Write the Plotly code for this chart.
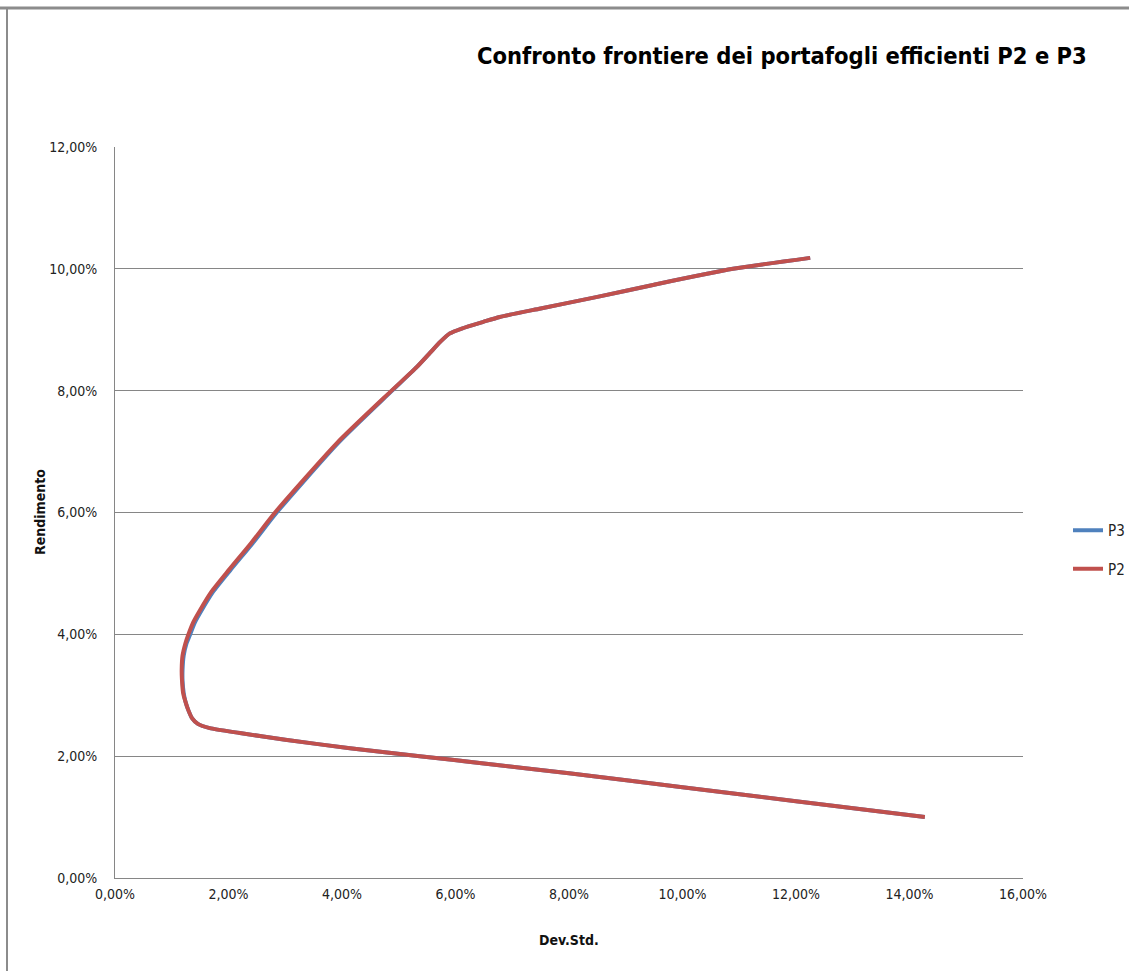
import plotly.graph_objects as go

# Efficient frontier of portfolio P2 (std dev %, return %)
p2_dev = [14.27, 12.00, 10.00, 8.00, 6.50, 5.37, 4.14, 3.00, 2.20, 1.67, 1.46, 1.36,
          1.29, 1.24, 1.20, 1.18, 1.175, 1.19, 1.24, 1.29, 1.38, 1.50, 1.70, 2.00,
          2.40, 2.82, 3.91, 4.85, 5.32, 5.55, 5.73, 5.90, 6.11, 6.49, 6.78, 7.50,
          8.50, 9.50, 10.89, 12.25]
p2_ret = [1.00, 1.26, 1.49, 1.72, 1.88, 2.00, 2.13, 2.27, 2.38, 2.46, 2.53, 2.62,
          2.76, 2.90, 3.04, 3.25, 3.41, 3.65, 3.85, 3.99, 4.20, 4.40, 4.70, 5.05,
          5.50, 6.00, 7.14, 7.98, 8.39, 8.62, 8.80, 8.94, 9.02, 9.13, 9.21, 9.35,
          9.54, 9.74, 10.00, 10.18]

# Efficient frontier of portfolio P3 (std dev %, return %)
p3_dev = [14.27, 12.00, 10.00, 8.00, 6.50, 5.37, 4.14, 3.00, 2.20, 1.67, 1.46, 1.36,
          1.29, 1.24, 1.21, 1.19, 1.19, 1.21, 1.26, 1.32, 1.41, 1.53, 1.73, 2.03,
          2.43, 2.85, 3.93, 4.86, 5.32, 5.55, 5.73, 5.90, 6.11, 6.49, 6.78, 7.50,
          8.50, 9.50, 10.89, 12.25]
p3_ret = p2_ret[:]

x_ticks = [0, 2, 4, 6, 8, 10, 12, 14, 16]
y_ticks = [0, 2, 4, 6, 8, 10, 12]


def pct_label(v):
    return f"{v:.2f}".replace(".", ",") + "%"


BLUE = "#4F81BD"
RED = "#C0504D"
GRID = "#868686"
FONT = "DejaVu Sans Condensed, Liberation Sans, sans-serif"

fig = go.Figure()
fig.add_trace(go.Scatter(x=p3_dev, y=p3_ret, mode="lines", name="P3",
                         legendgroup="P3",
                         line=dict(color=BLUE, width=4, shape="spline", smoothing=0.6)))
fig.add_trace(go.Scatter(x=p2_dev, y=p2_ret, mode="lines", name="P2",
                         legendgroup="P2",
                         line=dict(color=RED, width=4, shape="spline", smoothing=0.6)))

# plot area in pixels
W, H = 1129, 971
L, R, T, B = 115, 1023, 147, 878


def px_x(p):
    return (p - L) / (R - L)


def px_y(p):
    return (B - p) / (B - T)


fig.update_layout(
    width=W, height=H,
    margin=dict(l=L, r=W - R, t=T, b=H - B, autoexpand=False),
    paper_bgcolor="white", plot_bgcolor="white",
    font=dict(family=FONT, size=14, color="#222222"),
    showlegend=True,
    legend=dict(xref="container", yref="container",
                x=1068 / W, y=1 - 514 / H, xanchor="left", yanchor="top",
                font=dict(size=15, color="#222222"),
                tracegroupgap=16, itemwidth=30, bgcolor="rgba(0,0,0,0)"),
    xaxis=dict(range=[0, 16], tickvals=x_ticks,
               ticktext=[pct_label(v) for v in x_ticks],
               showgrid=False, zeroline=False,
               showline=True, linecolor=GRID, linewidth=1,
               ticks="", ticklabelstandoff=3),
    yaxis=dict(range=[0, 12], tickvals=y_ticks,
               ticktext=[pct_label(v) for v in y_ticks],
               showgrid=True, gridcolor=GRID, gridwidth=1,
               zeroline=False, showline=True, linecolor=GRID, linewidth=1,
               ticks="", ticklabelstandoff=14),
)

fig.add_annotation(text="<b>Confronto frontiere dei portafogli efficienti P2 e P3</b>",
                   xref="paper", yref="paper", x=px_x(1089), y=px_y(56),
                   xanchor="right", yanchor="middle", showarrow=False,
                   font=dict(family=FONT, size=23.5, color="#000000"))

# axis titles
fig.add_annotation(text="<b>Dev.Std.</b>", xref="paper", yref="paper",
                   x=px_x(569), y=px_y(940), xanchor="center", yanchor="middle",
                   showarrow=False, font=dict(family=FONT, size=14, color="#111111"))
fig.add_annotation(text="<b>Rendimento</b>", xref="paper", yref="paper",
                   x=px_x(40), y=px_y(512), xanchor="center", yanchor="middle",
                   textangle=-90, showarrow=False,
                   font=dict(family=FONT, size=14, color="#111111"))

# outer chart frame (top and left edges)
fig.add_shape(type="line", xref="paper", yref="paper",
              x0=px_x(0), x1=px_x(W), y0=px_y(8), y1=px_y(8),
              line=dict(color="#8C8C8C", width=3))
fig.add_shape(type="line", xref="paper", yref="paper",
              x0=px_x(7), x1=px_x(7), y0=px_y(8), y1=px_y(H),
              line=dict(color="#8C8C8C", width=2))

fig.write_html("out.html")
